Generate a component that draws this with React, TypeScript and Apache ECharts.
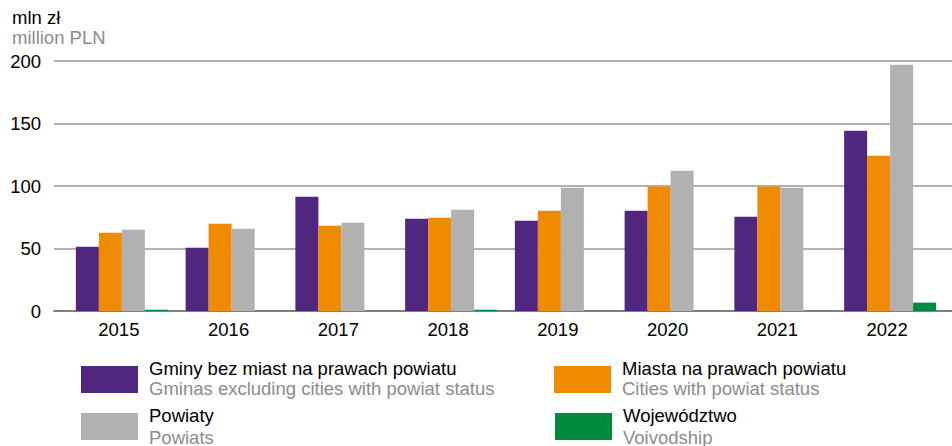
import React, { useEffect, useRef } from "react";
import * as echarts from "echarts";

const categories = ["2015", "2016", "2017", "2018", "2019", "2020", "2021", "2022"];
const gminy = [51.5, 50.7, 91.5, 73.9, 72.3, 80.3, 75.5, 144.3];
const miasta = [62.7, 69.9, 68.3, 74.7, 80.3, 99.7, 99.7, 124.3];
const powiaty = [65.1, 65.9, 70.7, 81.1, 98.7, 112.3, 98.7, 197.1];
const wojewodztwo = [1, 0, 0, 1, 0, 0, 0, 6.7];

const seriesNamesPl = [
  "Gminy bez miast na prawach powiatu",
  "Miasta na prawach powiatu",
  "Powiaty",
  "Województwo",
];
const seriesNamesEn = [
  "Gminas excluding cities with powiat status",
  "Cities with powiat status",
  "Powiats",
  "Voivodship",
];
const colors = ["#51267f", "#f08a00", "#b1b1b1", "#008a3e"];
const unitPl = "mln zł";
const unitEn = "million PLN";

const FONT = "'Liberation Sans', Arial, sans-serif";

export default function App() {
  const ref = useRef<HTMLDivElement>(null);
  useEffect(() => {
    document.body.style.margin = "0";
    if (!ref.current) return;
    const chart = echarts.init(ref.current, undefined, { renderer: "svg" });
    const data = [gminy, miasta, powiaty, wojewodztwo];

    const legendPos = [
      { x: 81, y: 366 },
      { x: 554, y: 366 },
      { x: 81, y: 413 },
      { x: 555, y: 413 },
    ];
    const legendGraphics: any[] = [];
    seriesNamesPl.forEach((name, i) => {
      const p = legendPos[i];
      legendGraphics.push({
        type: "rect",
        shape: { x: p.x, y: p.y, width: 57, height: 27 },
        style: { fill: colors[i] },
      });
      legendGraphics.push({
        type: "text",
        x: p.x + 68,
        y: p.y + 2,
        style: {
          text: name,
          fill: "#000",
          font: `18.5px ${FONT}`,
          verticalAlign: "middle",
        },
      });
      legendGraphics.push({
        type: "text",
        x: p.x + 68,
        y: p.y + (i < 2 ? 22 : 24),
        style: {
          text: seriesNamesEn[i],
          fill: "#8c8c8c",
          font: `18.5px ${FONT}`,
          verticalAlign: "middle",
        },
      });
    });

    chart.setOption({
      animation: false,
      textStyle: { fontFamily: FONT },
      grid: [
        { left: 54, right: 0, top: 61, bottom: 135 },
        { left: 67, right: 7, top: 61, bottom: 135 },
      ],
      xAxis: [
        {
          gridIndex: 0,
          type: "value",
          min: 0,
          max: 1,
          axisLabel: { show: false },
          axisTick: { show: false },
          splitLine: { show: false },
          axisLine: { show: true, lineStyle: { color: "#808080", width: 2 } },
        },
        {
          gridIndex: 1,
          type: "category",
          data: categories,
          axisLine: { show: false },
          axisTick: { show: false },
          axisLabel: {
            color: "#000",
            fontSize: 18.5,
            fontFamily: FONT,
            margin: 9,
            padding: [0, 6, 0, 0],
          },
        },
      ],
      yAxis: [
        {
          gridIndex: 0,
          type: "value",
          min: 0,
          max: 200,
          interval: 50,
          axisLine: { show: false },
          axisTick: { show: false },
          axisLabel: { color: "#000", fontSize: 18.5, fontFamily: FONT, margin: 13 },
          splitLine: { lineStyle: { color: "#999", width: 1.5 } },
        },
        {
          gridIndex: 1,
          type: "value",
          min: 0,
          max: 200,
          interval: 50,
          show: false,
          splitLine: { show: false },
        },
      ],
      series: data.map((d, i) => ({
        type: "bar",
        name: seriesNamesPl[i],
        xAxisIndex: 1,
        yAxisIndex: 1,
        data: d,
        barWidth: 23,
        barGap: "0%",
        itemStyle: { color: colors[i] },
      })),
      graphic: [
        {
          type: "text",
          x: 12,
          y: 17,
          style: { text: unitPl, fill: "#000", font: `18.5px ${FONT}`, verticalAlign: "middle" },
        },
        {
          type: "text",
          x: 12,
          y: 37,
          style: { text: unitEn, fill: "#8c8c8c", font: `18.5px ${FONT}`, verticalAlign: "middle" },
        },
        ...legendGraphics,
      ],
    });
    return () => chart.dispose();
  }, []);
  return <div ref={ref} style={{ width: 952, height: 446 }} />;
}
